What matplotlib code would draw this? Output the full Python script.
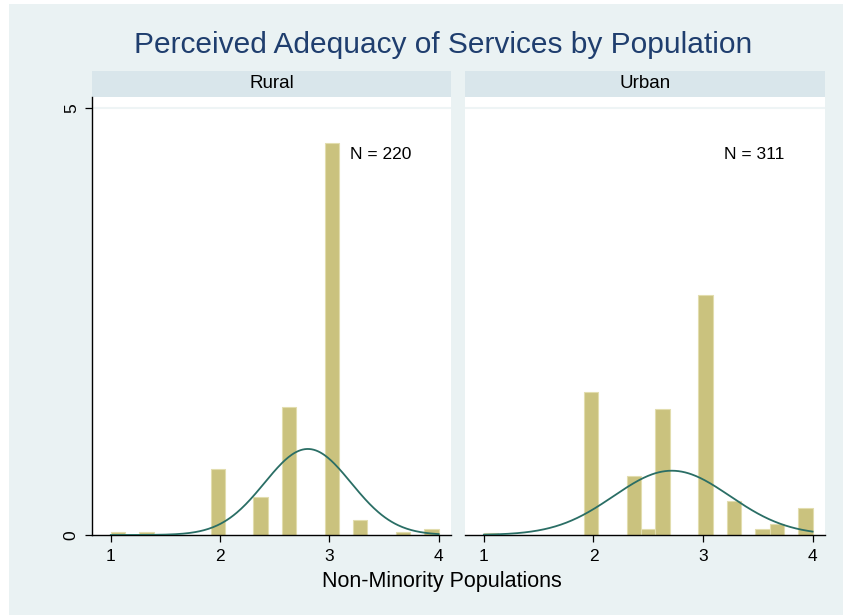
import numpy as np
import matplotlib
matplotlib.use("Agg")
import matplotlib.pyplot as plt
from matplotlib.patches import Rectangle

plt.rcParams["font.family"] = ["Liberation Sans", "DejaVu Sans"]

# histogram: 23 equal bins over 1..4, density per bin
bin_edges = np.linspace(1, 4, 24)
rural_density = [0.035, 0, 0.035, 0, 0, 0, 0, 0.77, 0, 0, 0.45, 0, 1.50,
                 0, 0, 4.59, 0, 0.175, 0, 0, 0.035, 0, 0.07]
urban_density = [0.025, 0, 0, 0, 0, 0, 0, 1.677, 0, 0, 0.69, 0.074, 1.479,
                 0, 0, 2.81, 0, 0.394, 0, 0.074, 0.123, 0, 0.32]

# normal overlay parameters
rural_mean, rural_sd = 2.803, 0.396
urban_mean, urban_sd = 2.715, 0.53

panels = ["Rural", "Urban"]
n_labels = ["N = 220", "N = 311"]

bg = "#EAF2F3"
strip_col = "#D9E6EB"
bar_col = "#CAC27E"
bar_edge = "#E2DDAE"
curve_col = "#2A6E65"
title_col = "#1F3E6E"

W, H = 843, 615
fig = plt.figure(figsize=(W / 100, H / 100), dpi=100, facecolor="white")
fig.patches.append(Rectangle((9 / W, 0), 1, 1 - 4 / H, transform=fig.transFigure,
                             facecolor=bg, edgecolor="none", zorder=-10))

fig.text(443 / W, 1 - 45 / H, "Perceived Adequacy of Services by Population",
         ha="center", va="center", fontsize=21.5, color=title_col)

lefts = [92, 465]
rights = [451, 825]
top, bottom = 97.3, 535
strip_top = 71

datasets = [(rural_density, rural_mean, rural_sd),
            (urban_density, urban_mean, urban_sd)]

for i, (dens, mu, sd) in enumerate(datasets):
    l, r = lefts[i], rights[i]
    ax = fig.add_axes([l / W, (H - bottom) / H, (r - l) / W, (bottom - top) / H])
    ax.set_facecolor("white")
    ax.set_zorder(2)

    dens = np.array(dens)
    keep = dens > 0
    ax.bar(bin_edges[:-1][keep], dens[keep], width=np.diff(bin_edges)[keep],
           align="edge", color=bar_col, edgecolor=bar_edge, linewidth=0.8, zorder=2)

    xs = np.linspace(1, 4, 300)
    ax.plot(xs, np.exp(-0.5 * ((xs - mu) / sd) ** 2) / (sd * np.sqrt(2 * np.pi)),
            color=curve_col, linewidth=1.3, zorder=3)

    ax.axhline(5, color="#EEF4F5", linewidth=1.5, zorder=1)
    ax.text(3.19, 4.45, n_labels[i], ha="left", va="center", fontsize=12.5)

    ax.set_xlim(0.828, 4.113)
    ax.set_ylim(0, 5.125)
    ax.set_xticks([1, 2, 3, 4])
    ax.tick_params(axis="x", direction="out", length=5, width=0.9, labelsize=12.5, pad=5)
    for s in ["top", "right"]:
        ax.spines[s].set_visible(False)
    ax.spines["bottom"].set_linewidth(1.0)
    if i == 0:
        ax.set_yticks([0, 5])
        ax.set_yticklabels(["0", "5"], rotation=90, va="center")
        ax.tick_params(axis="y", direction="out", length=5, width=0.9, labelsize=12.5, pad=4.5)
        ax.spines["left"].set_linewidth(1.0)
    else:
        ax.set_yticks([])
        ax.spines["left"].set_visible(False)

    # panel header strip
    fig.patches.append(Rectangle((l / W, (H - top) / H), (r - l) / W, (top - strip_top) / H,
                                 transform=fig.transFigure, facecolor=strip_col,
                                 edgecolor="none", zorder=-5))
    fig.text((l + r) / 2 / W, 1 - 84 / H, panels[i], ha="center", va="center",
             fontsize=13.5)

fig.text(442 / W, 1 - 582 / H, "Non-Minority Populations", ha="center", va="center",
         fontsize=15.5)

fig.savefig("out.png", dpi=100, facecolor=fig.get_facecolor())
